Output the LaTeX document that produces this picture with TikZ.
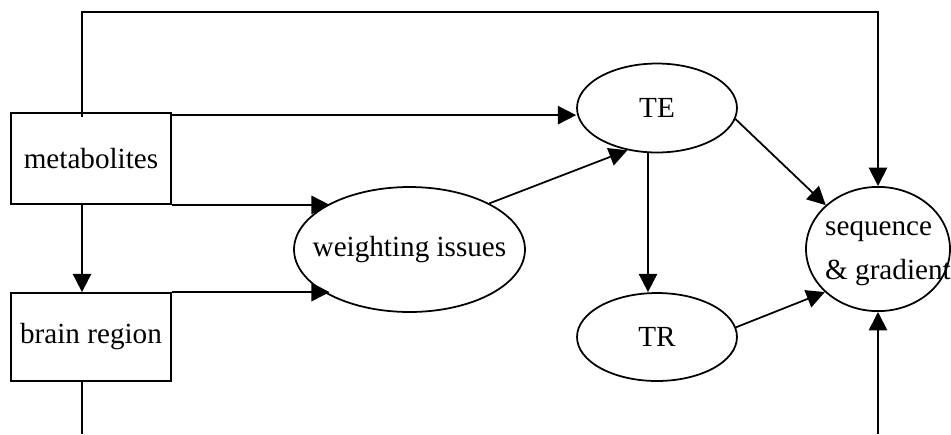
\documentclass[tikz,border=0pt]{standalone}
\usepackage{fontspec}
\setmainfont{Liberation Serif}
\usetikzlibrary{arrows.meta,calc,shapes.geometric}

\tikzset{
	box/.style={draw, rectangle, inner sep=0pt, minimum width=3.2cm},
	oval/.style={draw, ellipse, inner sep=0pt},
	link/.style={-{Triangle[length=10.4pt,width=10.4pt]}},
}

\begin{document}
\begin{tikzpicture}[x=0.02cm, y=-0.02cm, line width=1pt, font=\fontsize{16.6}{25}\selectfont]
			\useasboundingbox (0,0) rectangle (951,434);

			% boxes on the left
			\node[box, minimum height=1.82cm] (metab) at (91,158.5) {metabolites};
			\node[box, minimum height=1.76cm] (brain) at (91,337) {brain region};

			% ellipses
			\node[oval, minimum width=4.62cm, minimum height=2.5cm] (weight) at (409.5,249.5) {\makebox[0pt]{weighting issues}};
			\node[oval, minimum width=3.2cm, minimum height=1.78cm] (TE) at (657,108) {TE};
			\node[oval, minimum width=3.2cm, minimum height=1.76cm] (TR) at (657,337) {TR};
			\node[oval, minimum width=2.88cm, minimum height=2.48cm] (seq) at (878,249)
				{\makebox[0pt]{\hspace{0.4cm}\begin{tabular}{@{}l@{}}sequence\\\& gradient\end{tabular}}};

			% free ends at the bottom
			\coordinate (bl) at (82,434);
			\coordinate (br) at (878,434);

			% arrows
			\draw[link] ($(metab.north)+(-9,5)$) -- ++(0,-105) -| (seq.north);
			\draw[link] ($(metab.north east)+(0,3)$) coordinate (m1) -- (m1 -| TE.west);
			\draw[link] (metab.south east) -- (metab.south east -| weight.150);
			\draw[link] ($(metab.south)+(-9,0)$) -- ($(brain.north)+(-9,0)$);
			\draw[link] (brain.north east) -- (brain.north east -| weight.210);
			\draw ($(brain.south)+(-9,0)$) -- (bl);
			\draw[link] (weight.30) -- (TE.235);
			\draw[link] ($(TE.south)+(-9,0)$) -- ($(TR.north)+(-9,0)$);
			\draw[link] (TE.-8) -- (seq.140);
			\draw[link] (TR.7) -- (seq.219);
			\draw[link] (br) -- (seq.south);

		\end{tikzpicture}
\end{document}
